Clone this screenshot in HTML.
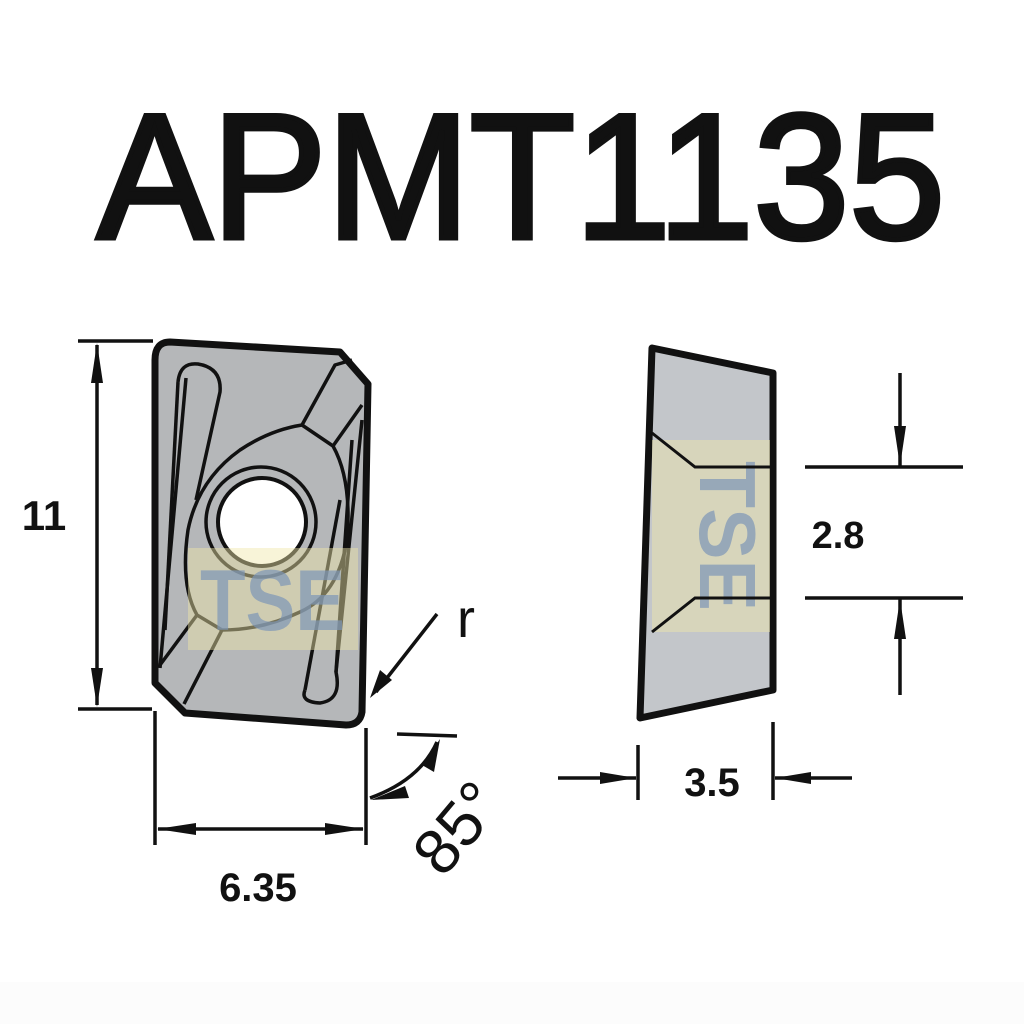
<!DOCTYPE html>
<html><head><meta charset="utf-8"><style>
html,body{margin:0;padding:0;background:#fff;width:1024px;height:1024px;overflow:hidden}
svg{display:block}
</style></head><body>
<svg width="1024" height="1024" viewBox="0 0 1024 1024" xmlns="http://www.w3.org/2000/svg">
<rect x="0" y="982" width="1024" height="42" fill="#fcfcfc"/>
<text x="97" y="238" font-family="Liberation Sans, sans-serif" font-size="178" textLength="848" lengthAdjust="spacingAndGlyphs" fill="#111" stroke="#111" stroke-width="5">APMT1135</text>

<!-- Left insert -->
<path d="M170,342 L340,352 L368,384 L362,712 Q360,725 346,725 L185,713 L155,683 L155,360 Q155,342 170,342 Z" fill="#b5b7b9" stroke="#111" stroke-width="7" stroke-linejoin="round"/>
<g fill="none" stroke="#111" stroke-width="3.5" stroke-linejoin="round">
<path d="M178,382 Q180,362 198,364 Q222,368 220,392 L196,500"/>
<path d="M186,378 L160,668"/>
<path d="M178,382 L165,630"/>
<path d="M305,690 Q300,702 320,703 Q342,700 336,672 L352,440"/>
<path d="M305,690 L340,500"/>
<path d="M336,672 L362,420"/>
<path d="M302,425 L333,446 Q352,480 347,540 Q338,595 300,612 Q262,630 222,630 L197,615 Q180,585 188,530 Q198,480 240,450 Q270,430 302,425 Z"/>
<path d="M302,425 L335,365 L352,360"/>
<path d="M333,446 L362,405"/>
<path d="M222,630 L184,704"/>
<path d="M197,615 L160,665"/>
<circle cx="261" cy="522" r="55"/>
</g>
<circle cx="262" cy="522" r="44" fill="#fff" stroke="#111" stroke-width="4"/>
<rect x="188" y="548" width="170" height="102" fill="#f0e6a8" opacity="0.45"/>
<text x="200" y="630" font-family="Liberation Sans, sans-serif" font-weight="bold" font-size="86" fill="#7d96b8" opacity="0.7" textLength="145" lengthAdjust="spacingAndGlyphs">TSE</text>

<!-- Right insert -->
<path d="M652,348 L773,373 L773,690 L640,718 Z" fill="#c3c6ca" stroke="#111" stroke-width="7" stroke-linejoin="round"/>
<rect x="652" y="440" width="118" height="192" fill="#f0e6a8" opacity="0.45"/>
<text transform="translate(700,536) rotate(90)" text-anchor="middle" font-family="Liberation Sans, sans-serif" font-weight="bold" font-size="80" fill="#7d96b8" opacity="0.7" textLength="150" lengthAdjust="spacingAndGlyphs">TSE</text>
<g fill="none" stroke="#111" stroke-width="3">
<path d="M652,433 L695,467 L770,467"/>
<path d="M652,632 L695,598 L770,598"/>
</g>

<g stroke="#111" stroke-width="3.5" fill="none">
<line x1="78" y1="341" x2="153" y2="341"/>
<line x1="78" y1="709" x2="152" y2="709"/>
<line x1="97" y1="345" x2="97" y2="705"/>
<line x1="155" y1="711" x2="155" y2="845"/>
<line x1="366" y1="728" x2="366" y2="845"/>
<line x1="158" y1="829" x2="363" y2="829"/>
<line x1="437" y1="614" x2="376" y2="692"/>
<line x1="397" y1="734" x2="457" y2="736"/>
<path d="M370,798 Q420,780 437,742"/>
<line x1="805" y1="467" x2="963" y2="467"/>
<line x1="805" y1="598" x2="963" y2="598"/>
<line x1="900" y1="373" x2="900" y2="467"/>
<line x1="900" y1="598" x2="900" y2="695"/>
<line x1="638" y1="745" x2="638" y2="800"/>
<line x1="773" y1="722" x2="773" y2="800"/>
<line x1="558" y1="778" x2="636" y2="778"/>
<line x1="775" y1="778" x2="852" y2="778"/>
</g>
<g fill="#111">
<polygon points="97,343 91,383 103,383"/>
<polygon points="97,707 91,668 103,668"/>
<polygon points="157,829 196,823 196,835"/>
<polygon points="364,829 325,823 325,835"/>
<polygon points="370,698 380,670 392,680"/>
<polygon points="371,800 405,786 409,798"/>
<polygon points="440,739 434,772 422,765"/>
<polygon points="900,466 894,426 906,426"/>
<polygon points="900,599 894,639 906,639"/>
<polygon points="636,778 600,772 600,784"/>
<polygon points="775,778 811,772 811,784"/>
</g>
<g font-family="Liberation Sans, sans-serif" fill="#111">
<text x="44" y="530" font-size="42" font-weight="bold" text-anchor="middle">11</text>
<text x="258" y="901" font-size="40" font-weight="bold" text-anchor="middle">6.35</text>
<text x="838" y="548" font-size="38" font-weight="bold" text-anchor="middle">2.8</text>
<text x="712" y="796" font-size="40" font-weight="bold" text-anchor="middle">3.5</text>
<text x="466" y="637" font-size="54" text-anchor="middle">r</text>
<text transform="translate(474,842) rotate(-50)" font-size="64" text-anchor="middle">85°</text>
</g>
</svg>
</body></html>
